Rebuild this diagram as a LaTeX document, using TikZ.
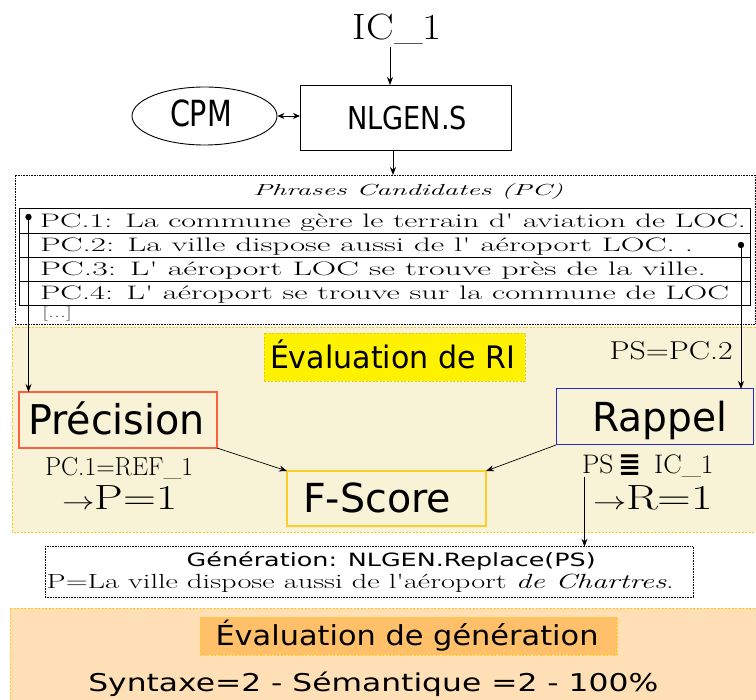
\documentclass[tikz,border=0pt]{standalone}
\usepackage{fontspec}
\usepackage{graphicx}
\usetikzlibrary{arrows.meta,shapes.geometric}
\newfontfamily\dvs{DejaVu Sans}
\newcommand\fitw[2]{\resizebox{#1pt}{\height}{#2}}
\newcommand\fsz[1]{\fontsize{#1}{#1}\selectfont}
\newcommand\apo{\textquotesingle}
\definecolor{ribg}{RGB}{248,243,214}
\definecolor{riborder}{RGB}{255,196,20}
\definecolor{rilab}{RGB}{255,242,0}
\definecolor{rilabb}{RGB}{235,200,40}
\definecolor{genbg}{RGB}{255,224,182}
\definecolor{genlab}{RGB}{255,192,105}
\definecolor{genborder}{RGB}{255,205,30}
\definecolor{precb}{RGB}{255,95,60}
\definecolor{rappb}{RGB}{40,40,225}
\definecolor{fsb}{RGB}{255,205,40}
\tikzset{
  tx/.style={inner sep=0pt, outer sep=0pt, anchor=base west},
  conn/.style={-{Stealth[length=8pt,width=6pt]}, line width=0.7pt},
  box/.style={draw, line width=0.9pt, inner sep=0pt, outer sep=0pt, anchor=north west},
  ydash/.style={dash pattern=on 2pt off 1.5pt, line width=0.7pt},
}
\begin{document}
\begin{tikzpicture}[x=1pt,y=-1pt]
\useasboundingbox (0,0) rectangle (756,700);
\fill[white] (0,0) rectangle (756,700);
% regions
\fill[ribg] (12,327) rectangle (758,532);
\draw[riborder, ydash] (12,327) rectangle (758,532);
\fill[genbg] (10,608) rectangle (758,703);
\draw[genborder, ydash] (10,608) rectangle (758,703);

% IC_1 and NLGEN.S
\node[tx, anchor=base] (ic) at (397.5,40) {\fitw{89}{\fsz{36.6}IC\_1}};
\node[box, minimum width=211pt, minimum height=65pt] (nlgen) at (300,85) {};
\node[tx] (nlgent) at (347,130) {\fitw{120}{\dvs\fsz{31.5}NLGEN.S}};
\node[ellipse, draw, line width=0.9pt, minimum width=145pt, minimum height=58pt, inner sep=0pt] (cpm) at (204.5,116) {};
\node[tx] (cpmt) at (170,126.5) {\fitw{62}{\dvs\fsz{36}CPM}};

% PC box
\node[box, line width=0.6pt, densely dotted, minimum width=740pt, minimum height=149pt] (pcbox) at (15,175) {};
\node[tx] (pct) at (253,195.5) {\fitw{310}{\fsz{16}\itshape Phrases Candidates (PC)}};
\node[box, line width=0.8pt, minimum width=731pt, minimum height=97pt] (tab) at (19,208) {};
\draw[line width=0.8pt] (19,233) -- (750,233);
\draw[line width=0.8pt] (19,257) -- (750,257);
\draw[line width=0.8pt] (19,281) -- (750,281);
\node[tx] (pc1) at (40,227.3) {\fitw{706}{\fsz{19.5}PC.1: La commune gère le terrain d\apo{} aviation de LOC.}};
\node[tx] (pc2) at (40,251.5) {\fitw{653}{\fsz{19.5}PC.2: La ville dispose aussi de l\apo{} aéroport LOC. .}};
\node[tx] (pc3) at (40,275.5) {\fitw{666}{\fsz{19.5}PC.3: L\apo{} aéroport LOC se trouve près de la ville.}};
\node[tx] (pc4) at (40,299.5) {\fitw{689}{\fsz{19.5}PC.4: L\apo{} aéroport se trouve sur la commune de LOC}};
\node[tx] (etc) at (42,317.5) {\fitw{30}{\fsz{15}\color{darkgray}[...]}};

% RI evaluation
\node[box, draw=rilabb, fill=rilab, ydash, minimum width=261pt, minimum height=48pt] (rilabel) at (264,333) {};
\node[tx] (rilabt) at (270,369) {\fitw{245}{\dvs\fsz{31}Évaluation de RI}};
\node[tx] (pspc) at (609.7,359.3) {\fitw{123}{\fsz{25.8}PS=PC.2}};

\node[box, draw=precb, line width=1.1pt, minimum width=198pt, minimum height=56pt] (prec) at (19,392) {};
\node[tx] (prect) at (28,435) {\fitw{177}{\dvs\fsz{41}Précision}};
\node[box, draw=rappb, line width=1pt, minimum width=197pt, minimum height=56pt] (rapp) at (556,389) {};
\node[tx] (rappt) at (592,431.7) {\fitw{135}{\dvs\fsz{40}Rappel}};
\node[box, draw=fsb, line width=1.1pt, minimum width=199pt, minimum height=55pt] (fs) at (287,471) {};
\node[tx] (fst) at (303,512.3) {\fitw{148}{\dvs\fsz{40}F-Score}};

\node[tx] (pcref) at (45,476) {\fitw{148}{\fsz{26}PC.1=REF\_1}};
\node[tx] (peq) at (62,510) {\fitw{115}{\fsz{35}$\rightarrow$P=1}};
\node[tx] (psic) at (582,473.3) {\fitw{131.6}{\fsz{26.8}PS\,{\dvs\bfseries ≣}\, IC\_1}};
\node[tx] (req) at (593,510) {\fitw{120}{\fsz{35}$\rightarrow$R=1}};

% generation
\node[box, line width=0.6pt, densely dotted, minimum width=648pt, minimum height=50.3pt] (gen) at (45,546.7) {};
\node[tx] (gent1) at (186.7,566.7) {\fitw{409}{\dvs\fsz{18.3}Génération: NLGEN.Replace(PS)}};
\node[tx] (gent2) at (46.7,588.3) {\fitw{627}{\fsz{20.5}P=La ville dispose aussi de l\apo{}aéroport \textit{de Chartres}.}};

\node[box, draw=genborder, fill=genlab, ydash, minimum width=417pt, minimum height=38pt] (glab) at (200,617) {};
\node[tx] (glabt) at (215.5,645) {\fitw{383}{\dvs\fsz{27.5}Évaluation de génération}};
\node[tx] (score) at (88.3,691.7) {\fitw{570}{\dvs\fsz{24.5}Syntaxe=2 - Sémantique =2 - 100\%}};

% connectors
\coordinate (a1) at (390,47);
\draw[conn] (a1) -- (a1 |- nlgen.north);
\draw[{Stealth[length=7pt,width=6pt]}-{Stealth[length=7pt,width=6pt]}, line width=0.7pt] (cpm.east) -- (cpm.east -| nlgen.west);
\coordinate (a2) at (393,0);
\draw[conn] (nlgen.south -| a2) -- (pcbox.north -| a2);
\coordinate (d1) at (28.5,217);
\fill (d1) circle[radius=3.2pt];
\draw[conn] (d1) -- (d1 |- prec.north);
\coordinate (d2) at (741,245);
\fill (d2) circle[radius=3.2pt];
\draw[conn] (d2) -- (d2 |- rapp.north);
\draw[conn] (prec.south east) -- (fs.north west);
\draw[conn] (rapp.south west) -- (fs.north east);
\coordinate (a3) at (584.5,477);
\draw[conn] (a3) -- (a3 |- gen.north);
\end{tikzpicture}
\end{document}
